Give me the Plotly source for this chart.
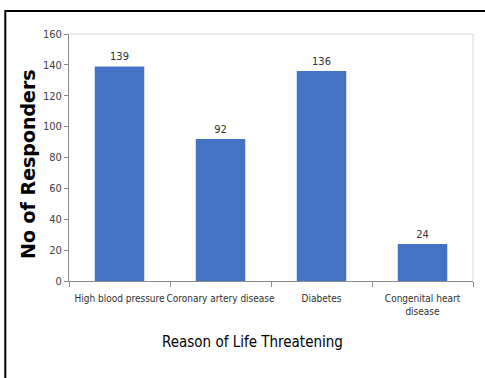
import plotly.graph_objects as go

# Survey results: reasons reported as life threatening
categories = ["High blood pressure", "Coronary artery disease", "Diabetes",
              "Congenital heart<br>disease"]
responders = [139, 92, 136, 24]
y_ticks = [0, 20, 40, 60, 80, 100, 120, 140, 160]

W, H = 485, 378
L, R, T, B = 69, 12, 34, 97
pw, ph = W - L - R, H - T - B

def px_x(x):
    return (x - L) / pw

def px_y(y):
    return (H - B - y) / ph

narrow = "DejaVu Sans Condensed, Liberation Sans Narrow, sans-serif"

fig = go.Figure(go.Bar(
    x=categories,
    y=responders,
    marker=dict(color="#4472C4", line=dict(width=0)),
    width=0.49,
    text=[str(v) for v in responders],
    textposition="outside",
    textfont=dict(family=narrow, size=11, color="#303030"),
    cliponaxis=False,
))

fig.update_layout(
    width=W, height=H,
    margin=dict(l=L, r=R, t=T, b=B, pad=0, autoexpand=False),
    paper_bgcolor="white",
    plot_bgcolor="white",
    showlegend=False,
    font=dict(family=narrow, size=11, color="#404040"),
    xaxis=dict(
        type="category",
        tickson="boundaries",
        tickangle=0,
        automargin=False,
        ticks="outside", ticklen=5, tickcolor="#8C8C8C",
        ticklabelstandoff=8,
        showline=True, linecolor="#8C8C8C", linewidth=1,
        showgrid=False,
        tickfont=dict(family=narrow, size=10, color="#303030"),
    ),
    yaxis=dict(
        range=[0, 160],
        tickvals=y_ticks,
        automargin=False,
        ticks="outside", ticklen=4, tickcolor="#8C8C8C",
        showline=True, linecolor="#8C8C8C", linewidth=1,
        showgrid=False, zeroline=False,
        tickfont=dict(family=narrow, size=11, color="#404040"),
    ),
    shapes=[
        # light frame on top and right of the plot area
        dict(type="line", xref="paper", yref="paper", x0=0, x1=1, y0=1, y1=1,
             line=dict(color="#D9D9D9", width=1)),
        dict(type="line", xref="paper", yref="paper", x0=1, x1=1, y0=0, y1=1,
             line=dict(color="#D9D9D9", width=1)),
        # outer black border
        dict(type="rect", xref="paper", yref="paper",
             x0=px_x(5.3), x1=px_x(W + 10), y0=px_y(H + 10), y1=px_y(11),
             line=dict(color="black", width=2), fillcolor="rgba(0,0,0,0)",
             layer="above"),
    ],
    annotations=[
        dict(text="Reason of Life Threatening", xref="paper", yref="paper",
             x=px_x(252.5), y=px_y(342), xanchor="center", yanchor="middle",
             showarrow=False,
             font=dict(family=narrow, size=15, color="black")),
        dict(text="<b>No of Responders</b>", xref="paper", yref="paper",
             x=px_x(28), y=px_y(164), xanchor="center", yanchor="middle",
             textangle=-90, showarrow=False,
             font=dict(family="DejaVu Sans, Arial, sans-serif", size=19,
                       color="black")),
    ],
)

fig.write_html("out.html")
